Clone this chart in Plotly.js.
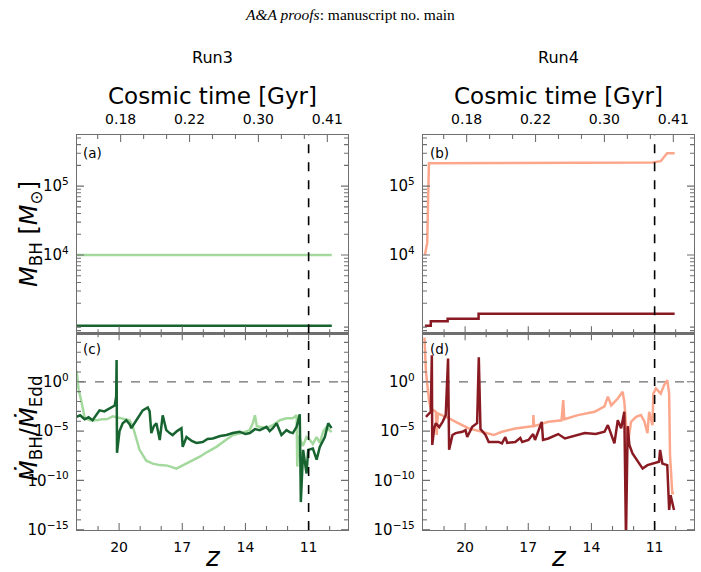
<!DOCTYPE html>
<html>
<head>
<meta charset="utf-8">
<script src="https://cdn.plot.ly/plotly-3.0.1.min.js"></script>
<style>html,body{margin:0;padding:0;background:#fff;}#chart{width:701px;height:572px;}</style>
</head>
<body>
<div id="chart"></div>
<script>
// ---------------- data ----------------
const zTicks = [20, 17, 14, 11];
const zTickLabels = ["20", "17", "14", "11"];
const zMinorTicks = [21, 19, 18, 16, 15, 13, 12, 10];
const timeTickPos = [0, 3, 6, 9];
const timeMinorTicks = [-1, 1, 2, 4, 5, 7, 8];
const timeTickLabels = ["0.18", "0.22", "0.30", "0.41"];
const massTicks = [1e4, 1e5];
const massTickLabels = ["10<sup>4</sup>", "10<sup>5</sup>"];
const rateTicks = [1e-15, 1e-10, 1e-5, 1];
const rateTickLabels = ["10<sup>\u221215</sup>", "10<sup>\u221210</sup>", "10<sup>\u22125</sup>", "10<sup>0</sup>"];
const zRef = 11.0;

// Run3 BH mass [Msun]
const run3LightMassZ = [22.0, 9.9];
const run3LightMass = [1.0e4, 1.0e4];
const run3DarkMassZ = [22.0, 9.9];
const run3DarkMass = [940, 940];

// Run4 BH mass [Msun]
const run4LightMassZ = [21.91, 21.80, 21.72, 12.67, 11.11, 10.71, 10.47, 10.41, 10.05];
const run4LightMass = [1.0e4, 1.5e4, 2.15e5, 2.15e5, 2.2e5, 2.3e5, 2.9e5, 3.0e5, 3.0e5];
const run4DarkMassZ = [21.91, 21.63, 20.83, 19.36, 10.05];
const run4DarkMass = [940, 1090, 1190, 1400, 1400];

// Run3 Eddington ratio (log10)
const run3LightRateZ = [22.02, 21.92, 21.80, 21.70, 21.64, 21.40, 21.08, 20.80, 20.59, 20.30, 20.12, 19.80, 19.50, 19.34, 19.18, 19.03, 18.71, 18.40, 18.07, 17.70, 17.28, 16.70, 16.17, 15.80, 15.38, 15.00, 14.60, 14.20, 13.80, 13.65, 13.55, 13.46, 13.20, 13.00, 12.70, 12.37, 12.05, 11.75, 11.57, 11.54, 11.47, 11.27, 11.10, 10.94, 10.80, 10.62, 10.47, 10.30, 10.15, 9.91];
const run3LightRateLog = [1.1, -0.8, -1.9, -3.0, -3.6, -3.9, -3.9, -3.8, -3.8, -3.5, -3.6, -3.8, -3.9, -4.6, -5.9, -6.9, -8.0, -8.3, -8.45, -8.5, -8.8, -8.2, -7.6, -7.1, -6.6, -6.0, -5.4, -5.2, -4.9, -4.2, -3.4, -4.5, -4.6, -4.7, -4.4, -3.9, -3.7, -3.7, -3.4, -8.6, -5.5, -6.5, -5.6, -5.9, -6.3, -5.6, -6.2, -5.0, -4.6, -5.1];
const run3DarkRateZ = [22.02, 21.85, 21.64, 21.45, 21.26, 20.93, 20.70, 20.45, 20.21, 20.14, 20.12, 20.10, 19.98, 19.83, 19.66, 19.50, 19.42, 19.18, 18.88, 18.64, 18.55, 18.47, 18.35, 18.23, 18.07, 17.93, 17.76, 17.60, 17.46, 17.25, 17.04, 16.98, 16.80, 16.55, 16.33, 16.03, 15.80, 15.55, 15.20, 14.90, 14.60, 14.27, 14.00, 13.79, 13.55, 13.32, 13.00, 12.85, 12.70, 12.52, 12.29, 12.05, 11.90, 11.75, 11.57, 11.42, 11.37, 11.26, 11.10, 11.02, 10.80, 10.62, 10.47, 10.23, 10.07, 9.91];
const run3DarkRateLog = [-3.55, -3.4, -3.8, -3.6, -3.9, -2.9, -3.0, -2.7, -2.4, -1.5, 2.2, -7.2, -5.0, -4.2, -3.9, -4.3, -4.7, -3.9, -2.9, -2.6, -3.0, -5.2, -4.5, -4.2, -5.9, -3.4, -4.9, -5.2, -5.4, -5.0, -4.7, -6.6, -5.6, -6.0, -6.2, -6.1, -5.8, -5.75, -5.5, -5.4, -5.2, -5.07, -5.3, -5.2, -4.8, -4.9, -4.56, -5.0, -4.7, -4.2, -5.4, -4.9, -5.1, -5.2, -4.56, -3.3, -12.2, -6.9, -9.3, -6.9, -6.76, -7.9, -6.6, -5.6, -4.2, -4.7];

// Run4 Eddington ratio (log10)
const run4LightRateZ = [21.93, 21.86, 21.71, 21.63, 21.39, 21.35, 21.30, 21.07, 20.76, 20.45, 20.13, 19.82, 19.51, 19.19, 18.88, 18.64, 18.25, 17.62, 16.99, 16.77, 16.76, 16.72, 16.05, 15.42, 15.34, 15.29, 14.64, 13.85, 13.38, 13.22, 13.06, 12.75, 12.52, 12.44, 12.28, 12.20, 12.12, 11.88, 11.65, 11.49, 11.34, 11.26, 11.10, 11.06, 10.94, 10.71, 10.55, 10.40, 10.31, 10.27, 10.16, 10.08];
const run4LightRateLog = [4.5, 1.0, -2.0, -2.7, -3.04, -5.4, -3.2, -3.38, -3.7, -4.06, -4.4, -4.73, -4.9, -5.07, -5.2, -5.4, -5.07, -4.73, -4.56, -4.5, -3.38, -4.5, -4.06, -3.9, -1.86, -3.8, -3.38, -3.04, -2.5, -1.5, -2.4, -1.7, -1.0, -2.0, -6.4, -5.07, -4.06, -3.55, -3.38, -4.0, -5.2, -3.04, -4.4, -1.2, -0.67, -1.2, -0.33, 0.17, -1.2, -7.4, -11.3, -11.3];
const run4DarkRateZ = [21.86, 21.63, 21.58, 21.56, 21.47, 21.39, 21.23, 21.07, 20.92, 20.81, 20.76, 20.60, 20.45, 20.13, 19.98, 19.90, 19.66, 19.43, 19.35, 19.27, 19.03, 18.88, 18.41, 18.25, 18.09, 18.00, 17.62, 17.38, 17.29, 16.99, 16.77, 16.68, 16.36, 16.30, 16.05, 15.58, 15.26, 14.80, 14.32, 13.80, 13.38, 13.22, 12.91, 12.75, 12.59, 12.44, 12.36, 12.28, 12.20, 12.05, 11.81, 11.57, 11.34, 11.10, 10.79, 10.74, 10.63, 10.40, 10.31, 10.24, 10.08];
const run4DarkRateLog = [-3.55, -3.04, 2.7, -6.4, -4.73, -4.2, -4.6, -4.06, -3.38, 2.37, -6.9, -5.4, -5.2, -5.07, -4.9, -5.6, -4.56, -4.2, 2.5, -4.8, -5.4, -6.1, -6.1, -6.25, -5.6, -6.2, -6.1, -5.7, -6.1, -5.9, -5.3, -5.9, -4.06, -5.9, -5.75, -5.3, -5.75, -5.5, -5.2, -5.3, -5.07, -4.4, -6.25, -3.9, -4.7, -3.04, -16.0, -4.5, -6.4, -7.26, -8.1, -8.8, -8.45, -8.3, -8.1, -6.9, -8.3, -8.45, -13.0, -11.5, -13.0];

// ---------------- styles ----------------
const cLightGreen = "#a4d99e";
const cDarkGreen = "#176430";
const cLightRed = "#fca78b";
const cDarkRed = "#8a1a22";
const frame = "#6f6f6f";

// ---------------- geometry ----------------
const W = 701, H = 572;
const leftDom = [77 / W, 348 / W];
const rightDom = [423 / W, 694 / W];
const topDom = [1 - 333.3 / H, 1 - 135 / H];
const botDom = [1 - 530 / H, 1 - 333.3 / H];
const zRange = [22.0, 9.13];
const tRange = [-1.9, 9.9];
const massRange = [2.864, 5.742];
const rateRange = [-15.03, 4.92];
const panelW = 271, topH = 198.3, botH = 196.7;
const MAJ_PX = 7, MIN_PX = 4;

function pow10(arr) { return arr.map(v => Math.pow(10, v)); }

function inLogRange(v, r) { const l = Math.log10(v); return l > r[0] + 0.01 && l < r[1] - 0.01; }
function massMinor() {
  const v = [];
  for (let e = 2; e <= 5; e++) for (let m = 2; m <= 9; m++) v.push(m * Math.pow(10, e));
  return v.filter(x => inLogRange(x, massRange));
}
function rateMinor() {
  const v = [];
  for (let e = -14; e <= 4; e++) if (e % 5 !== 0) v.push(Math.pow(10, e));
  return v.filter(x => inLogRange(x, rateRange));
}

function line(x, y, color, xa, ya, width, shape) {
  return {x: x, y: y, type: "scatter", mode: "lines", xaxis: xa, yaxis: ya,
          line: {color: color, width: width || 2.5, shape: shape || "linear"},
          hoverinfo: "skip", showlegend: false};
}
// carrier (draws nothing) so the cosmic-time top axes exist
function carrier(xa, ya) {
  return {x: timeTickPos, y: timeTickPos.map(() => 1e4), type: "scatter", mode: "none",
          xaxis: xa, yaxis: ya, hoverinfo: "skip", showlegend: false};
}

const traces = [
  carrier("x5", "y"),
  carrier("x6", "y2"),
  line(run3LightMassZ, run3LightMass, cLightGreen, "x", "y", 2.5),
  line(run3DarkMassZ, run3DarkMass, cDarkGreen, "x", "y", 2.5),
  line(run4LightMassZ, run4LightMass, cLightRed, "x2", "y2", 2.5),
  line(run4DarkMassZ, run4DarkMass, cDarkRed, "x2", "y2", 2.5, "hv"),
  line(run3LightRateZ, pow10(run3LightRateLog), cLightGreen, "x3", "y3", 2.5),
  line(run3DarkRateZ, pow10(run3DarkRateLog), cDarkGreen, "x3", "y3", 2.5),
  line(run4LightRateZ, pow10(run4LightRateLog), cLightRed, "x4", "y4", 2.5),
  line(run4DarkRateZ, pow10(run4DarkRateLog), cDarkRed, "x4", "y4", 2.5)
];

// ---------------- tick marks (inside, as axis-referenced shapes) ----------------
function tickShape(xref, yref, x0, x1, y0, y1, w) {
  return {type: "line", xref: xref, yref: yref, x0: x0, x1: x1, y0: y0, y1: y1,
          line: {color: frame, width: w}, layer: "above"};
}
function xTickShapes(xa, ya, vals, len, hPx, bottom, top) {
  const f = len / hPx, out = [];
  vals.forEach(v => {
    if (bottom) out.push(tickShape(xa, ya + " domain", v, v, 0, f, 1.1));
    if (top) out.push(tickShape(xa, ya + " domain", v, v, 1, 1 - f, 1.1));
  });
  return out;
}
function yTickShapes(xa, ya, vals, len) {
  const f = len / panelW, out = [];
  vals.forEach(v => {
    out.push(tickShape(xa + " domain", ya, 0, f, v, v, 1.1));
    out.push(tickShape(xa + " domain", ya, 1, 1 - f, v, v, 1.1));
  });
  return out;
}
function panelTickShapes(xa, ya, hPx, yMaj, yMin, withTop) {
  return [].concat(
    xTickShapes(xa, ya, zTicks, MAJ_PX, hPx, true, withTop),
    xTickShapes(xa, ya, zMinorTicks, MIN_PX, hPx, true, withTop),
    yTickShapes(xa, ya, yMaj, MAJ_PX),
    yTickShapes(xa, ya, yMin, MIN_PX));
}
function timeTickShapes(xa, ya) {
  return [].concat(
    xTickShapes(xa, ya, timeTickPos, MAJ_PX, topH, false, true),
    xTickShapes(xa, ya, timeMinorTicks, MIN_PX, topH, false, true));
}

// ---------------- layout ----------------
const lblFont = {family: "DejaVu Sans", size: 14, color: "#000"};
const yLblFont = {family: "DejaVu Sans", size: 15, color: "#000"};
const axisCommon = {ticks: "", showline: true, linecolor: frame, linewidth: 1.2,
                    showgrid: false, zeroline: false, ticklabelstandoff: 4};

function zAxis(domain, anchor, labels, mirror) {
  return Object.assign({domain: domain, anchor: anchor, range: zRange, autorange: false,
          tickmode: "array", tickvals: zTicks, ticktext: zTickLabels,
          showticklabels: labels, mirror: mirror, tickfont: lblFont}, axisCommon);
}
function tAxis(overlay, anchor) {
  return Object.assign({overlaying: overlay, anchor: anchor, side: "top", range: tRange, autorange: false,
          tickmode: "array", tickvals: timeTickPos, ticktext: timeTickLabels, tickfont: lblFont}, axisCommon);
}
function massAxis(domain, anchor) {
  return Object.assign({domain: domain, anchor: anchor, type: "log", range: massRange, autorange: false,
          tickmode: "array", tickvals: massTicks, ticktext: massTickLabels,
          mirror: true, tickfont: yLblFont}, axisCommon);
}
function rateAxis(domain, anchor) {
  return Object.assign({domain: domain, anchor: anchor, type: "log", range: rateRange, autorange: false,
          tickmode: "array", tickvals: rateTicks, ticktext: rateTickLabels,
          mirror: true, tickfont: yLblFont}, axisCommon);
}

function vline(xa, ya) {
  return {type: "line", xref: xa, yref: ya + " domain", x0: zRef, x1: zRef, y0: 0, y1: 1,
          line: {color: "#000", width: 1.6, dash: "dash"}, layer: "above"};
}
function hline(xa, ya) {
  return {type: "line", xref: xa + " domain", yref: ya, x0: 0, x1: 1, y0: 1, y1: 1,
          line: {color: "#6e6e6e", width: 1.3, dash: "dash"}, layer: "below"};
}

function ann(text, x, y, size, opts) {
  return Object.assign({text: text, xref: "paper", yref: "paper", x: x / W, y: 1 - y / H,
          showarrow: false, xanchor: "center", yanchor: "middle",
          font: {family: "DejaVu Sans", size: size, color: "#000"}}, opts || {});
}

const annotations = [
  ann("<i>A&amp;A proofs</i>: manuscript no. main", 350, 14, 15, {font: {family: "Liberation Serif", size: 15.5, color: "#000"}}),
  ann("Run3", 212.5, 57, 16),
  ann("Run4", 558.5, 57, 16),
  ann("Cosmic time [Gyr]", 212.5, 96, 23),
  ann("Cosmic time [Gyr]", 558.5, 96, 23),
  ann("(a)", 81, 153, 13.5, {xanchor: "left"}),
  ann("(b)", 428, 153, 13.5, {xanchor: "left"}),
  ann("(c)", 81, 349, 13.5, {xanchor: "left"}),
  ann("(d)", 428, 349, 13.5, {xanchor: "left"}),
  ann("<i>z</i>", 212.5, 557, 26),
  ann("<i>z</i>", 558.5, 557, 26),
  ann("<i>M</i><sub>BH</sub> [<i>M</i><sub>\u2299</sub>]", 30, 234, 24, {textangle: -90}),
  ann("<i>M\u0307</i><sub>BH</sub>/<i>M\u0307</i><sub>Edd</sub>", 30, 428, 24, {textangle: -90})
];

const shapes = [].concat(
  timeTickShapes("x5", "y"), timeTickShapes("x6", "y2"),
  panelTickShapes("x", "y", topH, massTicks, massMinor(), false),
  panelTickShapes("x2", "y2", topH, massTicks, massMinor(), false),
  panelTickShapes("x3", "y3", botH, rateTicks, rateMinor(), true),
  panelTickShapes("x4", "y4", botH, rateTicks, rateMinor(), true),
  [vline("x", "y"), vline("x2", "y2"), vline("x3", "y3"), vline("x4", "y4"),
   hline("x3", "y3"), hline("x4", "y4")]
);

const layout = {
  width: W, height: H,
  margin: {l: 0, r: 0, t: 0, b: 0},
  paper_bgcolor: "#fff", plot_bgcolor: "#fff",
  showlegend: false,
  xaxis: zAxis(leftDom, "y", false, false),
  xaxis2: zAxis(rightDom, "y2", false, false),
  xaxis3: zAxis(leftDom, "y3", true, true),
  xaxis4: zAxis(rightDom, "y4", true, true),
  xaxis5: tAxis("x", "y"),
  xaxis6: tAxis("x2", "y2"),
  yaxis: massAxis(topDom, "x"),
  yaxis2: massAxis(topDom, "x2"),
  yaxis3: rateAxis(botDom, "x3"),
  yaxis4: rateAxis(botDom, "x4"),
  shapes: shapes,
  annotations: annotations
};

Plotly.newPlot("chart", traces, layout, {displayModeBar: false, staticPlot: true});
</script>
</body>
</html>
